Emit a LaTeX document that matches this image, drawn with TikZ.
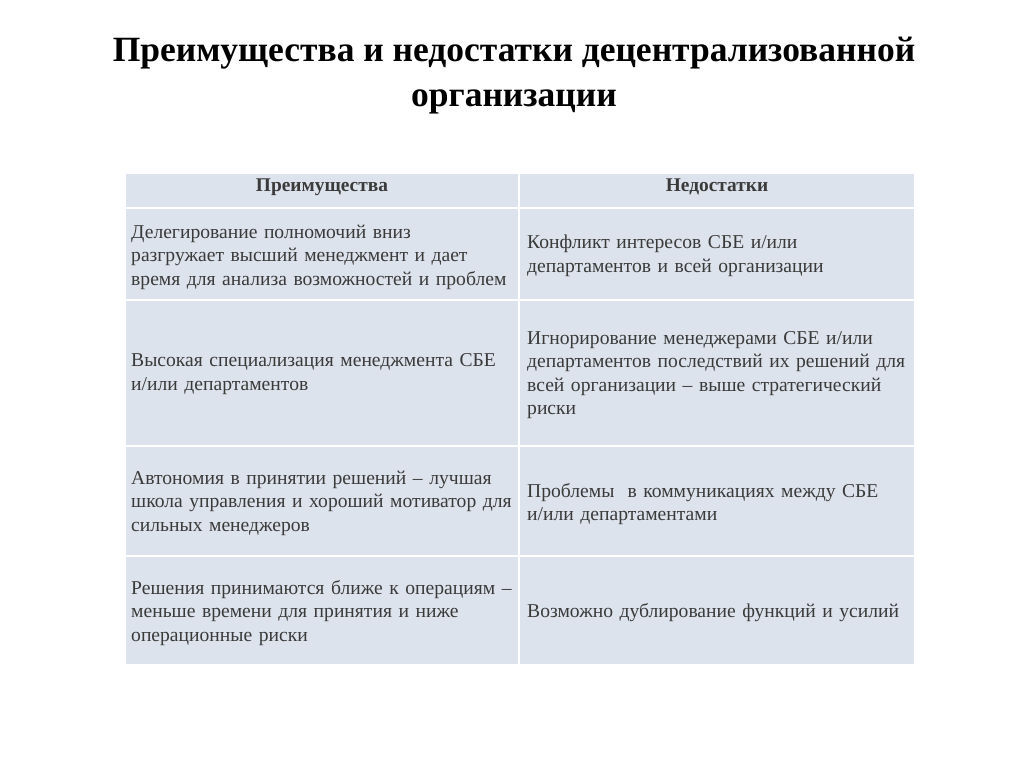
\documentclass[tikz,border=0pt]{standalone}
\usepackage{fontspec}
\setmainfont{Liberation Serif}
\definecolor{cellfill}{HTML}{DDE3EC}
\definecolor{celltext}{HTML}{3A3A3A}
\begin{document}
\begin{tikzpicture}[x=1pt,y=-1pt]

\tikzset{cell/.style={fill=cellfill,draw=white,line width=2pt},
  txt/.style={anchor=west,align=left,text width=385pt,inner sep=0pt,
    font=\fontsize{19.6}{23.5}\selectfont,text=celltext},
  head/.style={font=\bfseries\fontsize{19.4}{22}\selectfont,text=celltext}}

\useasboundingbox[fill=white] (0,0) rectangle (1024,767);

\node[font=\bfseries\fontsize{35.5}{45}\selectfont,align=center] (title) at (514,76)
  {Преимущества и недостатки децентрализованной\\организации};

% table cells
\draw[cell] (125,173) rectangle (519,208);
\draw[cell] (519,173) rectangle (915,208);
\foreach \ya/\yb in {208/300,300/446,446/556,556/665}{
  \draw[cell] (125,\ya) rectangle (519,\yb);
  \draw[cell] (519,\ya) rectangle (915,\yb);
}

\node[head] (hl) at (322,187) {Преимущества};
\node[head] (hr) at (717,187) {Недостатки};

\node[txt] (l1) at (131,257) {Делегирование полномочий вниз\\разгружает высший менеджмент и дает\\время для анализа возможностей и проблем};
\node[txt] (r1) at (527,256) {Конфликт интересов СБЕ и/или\\департаментов и всей организации};
\node[txt] (l2) at (131,374) {Высокая специализация менеджмента СБЕ\\и/или департаментов};
\node[txt] (r2) at (527,375) {Игнорирование менеджерами СБЕ и/или\\департаментов последствий их решений для\\всей организации -- выше стратегический\\риски};
\node[txt] (l3) at (131,503) {Автономия в принятии решений -- лучшая\\школа управления и хороший мотиватор для\\сильных менеджеров};
\node[txt] (r3) at (527,504) {Проблемы\ \ в коммуникациях между СБЕ\\и/или департаментами};
\node[txt] (l4) at (131,613) {Решения принимаются ближе к операциям --\\меньше времени для принятия и ниже\\операционные риски};
\node[txt] (r4) at (527,613) {Возможно дублирование функций и усилий};

\end{tikzpicture}
\end{document}
